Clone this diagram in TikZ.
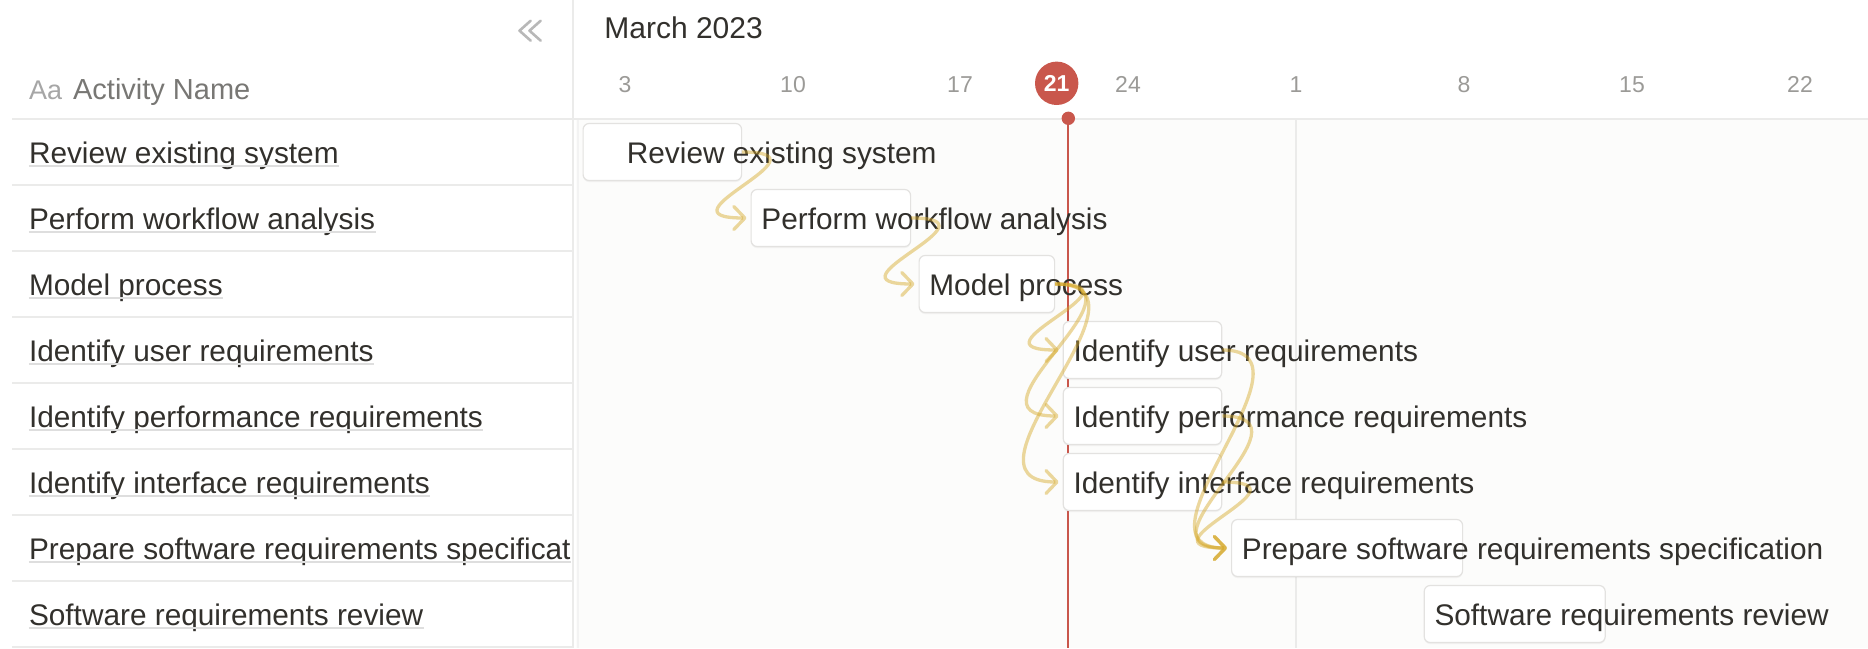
\documentclass[tikz,border=0pt]{standalone}
\usepackage{fontspec}
\setmainfont{Liberation Sans}
\usetikzlibrary{arrows.meta,shadows}
\definecolor{ink}{HTML}{32302C}
\definecolor{muted}{HTML}{787774}
\definecolor{faint}{HTML}{9B9A97}
\definecolor{rule}{HTML}{EBEBEA}
\definecolor{barline}{HTML}{E3E2E0}
\definecolor{bodybg}{HTML}{FCFCFB}
\definecolor{todayred}{HTML}{C9574C}
\definecolor{depgold}{RGB}{214,168,40}
\begin{document}
\begin{tikzpicture}[x=0.5pt,y=-0.5pt,
    bar/.style={draw=barline,fill=white,line width=0.6pt,rounded corners=3pt,
      minimum height=28.5pt,inner sep=0pt,anchor=west,
      drop shadow={opacity=0.08,shadow xshift=0pt,shadow yshift=-0.8pt}},
    rowtext/.style={inner sep=0pt,anchor=base west,text=ink,font=\fontsize{14.9}{18}\selectfont},
    datelbl/.style={inner sep=0pt,text=faint,font=\fontsize{11.5}{14}\selectfont},
    uline/.style={draw=black!13,line width=1pt},
    link/.style={draw=depgold,draw opacity=0.45,line width=1.65pt,
      -{Straight Barb[length=5.5pt,width=11.5pt,round]}}]
  \useasboundingbox (0,0) rectangle (1868,648);
  \fill[bodybg] (576,120) rectangle (1868,648);
  % panel borders and row lines
  \draw[rule,line width=1pt] (573,0) -- (573,648);
  \draw[rule!60,line width=1pt] (578,120) -- (578,648);
  \draw[rule,line width=1pt] (12,119) -- (1868,119);
  \draw[rule,line width=1pt] (12,185) -- (573,185) (12,251) -- (573,251)
    (12,317) -- (573,317) (12,383) -- (573,383) (12,449) -- (573,449)
    (12,515) -- (573,515) (12,581) -- (573,581) (12,647) -- (573,647);
  \draw[rule,line width=1pt] (1296,119) -- (1296,648);
  % collapse icon
  \draw[black!28,line width=1.3pt,line cap=round,line join=round]
    (530.7,20.7) -- (519.5,30.7) -- (530.7,40.7)
    (540.7,20.7) -- (529.5,30.7) -- (540.7,40.7);
  % header
  \node[inner sep=0pt,anchor=base west,text=black!35,font=\fontsize{13.5}{16}\selectfont] (aa) at (28.6,99) {Aa};
  \node[inner sep=0pt,anchor=base west,text=muted,font=\fontsize{14.5}{17}\selectfont] (colname) at (72.7,99) {Activity Name};
  \node[rowtext,font=\fontsize{15}{18}\selectfont] (month) at (604,38.5) {March 2023};
  \node[datelbl] (d3) at (625,84.5) {3};
  \node[datelbl] (d10) at (793,84.5) {10};
  \node[datelbl] (d17) at (960,84.5) {17};
  \node[datelbl] (d24) at (1128,84.5) {24};
  \node[datelbl] (d1) at (1296,84.5) {1};
  \node[datelbl] (d8) at (1464,84.5) {8};
  \node[datelbl] (d15) at (1632,84.5) {15};
  \node[datelbl] (d22) at (1800,84.5) {22};
  \node[circle,fill=todayred,text=white,inner sep=0pt,minimum size=21.7pt,
    font=\bfseries\fontsize{11.5}{14}\selectfont] (d21) at (1056.7,83.3) {21};
  % today marker
  \node[circle,fill=todayred,inner sep=0pt,minimum size=6.7pt] (now) at (1068.3,118.3) {};
  \coordinate (nowend) at (1068.3,648);
  \draw[todayred,line width=1pt] (now.center) -- (nowend);
  % activity names
  \begin{scope}
    \clip (0,120) rectangle (572,648);
    \node[rowtext] (r1) at (28.6,163.2) {Review existing system};
    \node[rowtext] (r2) at (28.6,229.2) {Perform workflow analysis};
    \node[rowtext] (r3) at (28.6,295.2) {Model process};
    \node[rowtext] (r4) at (28.6,361.2) {Identify user requirements};
    \node[rowtext] (r5) at (28.6,427.2) {Identify performance requirements};
    \node[rowtext] (r6) at (28.6,493.2) {Identify interface requirements};
    \node[rowtext] (r7) at (28.6,559.2) {Prepare software requirements specificat};
    \node[rowtext] (r8) at (28.6,625.2) {Software requirements review};
    \draw[uline] ([yshift=-1.6pt]r1.base west) -- ([yshift=-1.6pt]r1.base east);
    \draw[uline] ([yshift=-1.6pt]r2.base west) -- ([yshift=-1.6pt]r2.base east);
    \draw[uline] ([yshift=-1.6pt]r3.base west) -- ([yshift=-1.6pt]r3.base east);
    \draw[uline] ([yshift=-1.6pt]r4.base west) -- ([yshift=-1.6pt]r4.base east);
    \draw[uline] ([yshift=-1.6pt]r5.base west) -- ([yshift=-1.6pt]r5.base east);
    \draw[uline] ([yshift=-1.6pt]r6.base west) -- ([yshift=-1.6pt]r6.base east);
    \draw[uline] ([yshift=-1.6pt]r7.base west) -- ([yshift=-1.6pt]r7.base east);
    \draw[uline] ([yshift=-1.6pt]r8.base west) -- ([yshift=-1.6pt]r8.base east);
  \end{scope}
  % bars
  \node[bar,minimum width=79.25pt] (b1) at (582.5,152) {};
  \node[bar,minimum width=79.75pt] (b2) at (750.5,218) {};
  \node[bar,minimum width=67.75pt] (b3) at (918.5,284) {};
  \node[bar,minimum width=79.25pt] (b4) at (1062.6,350) {};
  \node[bar,minimum width=79.25pt] (b5) at (1062.6,416) {};
  \node[bar,minimum width=79.25pt] (b6) at (1062.6,482) {};
  \node[bar,minimum width=115.5pt] (b7) at (1231,548) {};
  \node[bar,minimum width=90.5pt] (b8) at (1423.6,614) {};
  \node[rowtext] (t1) at ([xshift=22pt,yshift=-5.6pt]b1.west) {Review existing system};
  \node[rowtext] (t2) at ([xshift=5.25pt,yshift=-5.6pt]b2.west) {Perform workflow analysis};
  \node[rowtext] (t3) at ([xshift=5.25pt,yshift=-5.6pt]b3.west) {Model process};
  \node[rowtext] (t4) at ([xshift=5.25pt,yshift=-5.6pt]b4.west) {Identify user requirements};
  \node[rowtext] (t5) at ([xshift=5.25pt,yshift=-5.6pt]b5.west) {Identify performance requirements};
  \node[rowtext] (t6) at ([xshift=5.25pt,yshift=-5.6pt]b6.west) {Identify interface requirements};
  \node[rowtext] (t7) at ([xshift=5.25pt,yshift=-5.6pt]b7.west) {Prepare software requirements specification};
  \node[rowtext] (t8) at ([xshift=5.25pt,yshift=-5.6pt]b8.west) {Software requirements review};
  % dependencies
  \draw[link] (b1.east) .. controls +(95,0) and +(-95,0) .. ([xshift=-2pt]b2.west);
  \draw[link] (b2.east) .. controls +(95,0) and +(-95,0) .. ([xshift=-2pt]b3.west);
  \draw[link] (b3.east) .. controls +(95,0) and +(-95,0) .. ([xshift=-2pt]b4.west);
  \draw[link] (b3.east) .. controls +(105,0) and +(-105,0) .. ([xshift=-2pt]b5.west);
  \draw[link] (b3.east) .. controls +(115,0) and +(-115,0) .. ([xshift=-2pt]b6.west);
  \draw[link] (b4.east) .. controls +(105,0) and +(-105,0) .. ([xshift=-2pt]b7.west);
  \draw[link] (b5.east) .. controls +(100,0) and +(-100,0) .. ([xshift=-2pt]b7.west);
  \draw[link] (b6.east) .. controls +(95,0) and +(-95,0) .. ([xshift=-2pt]b7.west);
\end{tikzpicture}
\end{document}
